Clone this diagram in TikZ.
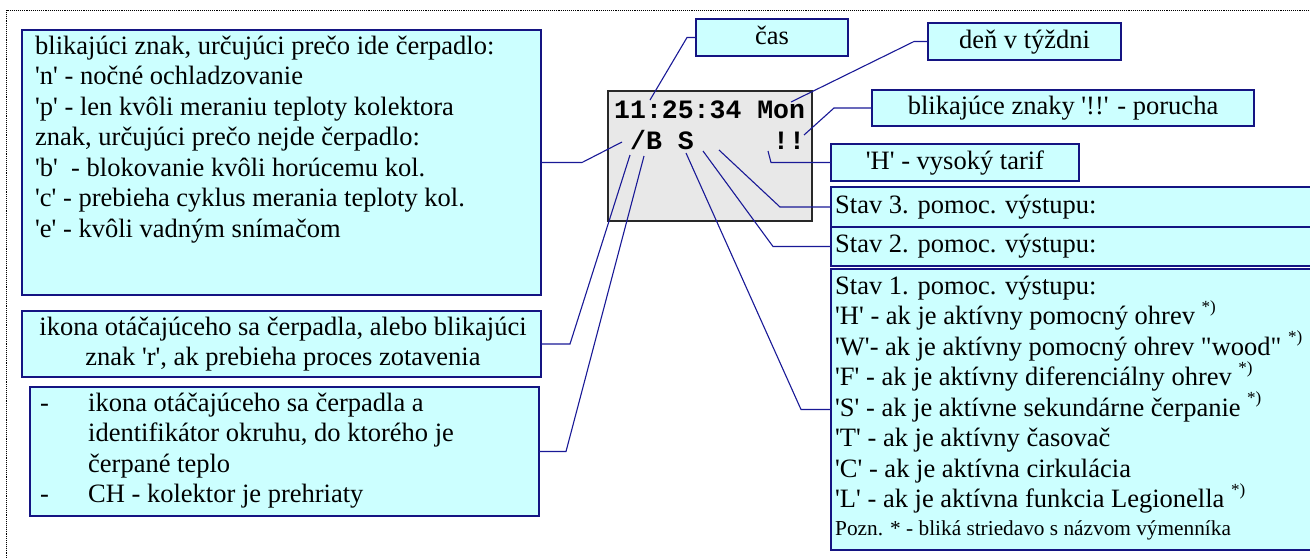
\documentclass[tikz,border=0pt]{standalone}
\usepackage{fontspec}
\setmainfont{Liberation Serif}[Ligatures=TeXOff]
\setmonofont{Liberation Mono}
\definecolor{boxfill}{RGB}{204,255,255}
\definecolor{boxline}{RGB}{20,20,130}
\definecolor{conncol}{RGB}{25,25,150}
\definecolor{lcdfill}{RGB}{232,232,232}
\definecolor{lcdline}{RGB}{40,40,40}
\newcommand{\supast}{\raisebox{12.5pt}{\fontsize{17}{17}\selectfont *)}}
\tikzset{
  box/.style={draw=boxline, fill=boxfill, line width=1.3pt, rectangle, inner sep=0pt, outer sep=0pt, anchor=north west},
  lbox/.style={draw=boxline, fill=boxfill, line width=1.3pt, rectangle, inner sep=0pt, outer sep=0pt, text height=20pt, text depth=6.5pt, font=\fontsize{26.5}{30.5}\selectfont},
  lcdbox/.style={draw=lcdline, fill=lcdfill, line width=2pt, rectangle, inner sep=0pt, outer sep=0pt, anchor=north west},
  txt/.style={anchor=base west, inner sep=0pt, font=\fontsize{26.5}{30.5}\selectfont},
  ctxt/.style={anchor=base, inner sep=0pt, font=\fontsize{26.5}{30.5}\selectfont},
  small/.style={anchor=base west, inner sep=0pt, font=\fontsize{21.3}{24}\selectfont},
  lcdtxt/.style={anchor=base west, inner sep=0pt, font=\fontsize{26.5}{30}\selectfont\ttfamily\bfseries},
  conn/.style={draw=conncol, line width=1.1pt},
  frame/.style={draw=black, densely dotted, line width=0.9pt}
}
\begin{document}
\begin{tikzpicture}[x=1pt,y=-1pt]
\useasboundingbox (0,0) rectangle (1310,558);
\draw[frame] (6,10) rectangle (1340,590);

% LCD display
\node[lcdbox, minimum width=204pt, minimum height=130pt] (lcd) at (608,91) {};
\node[lcdtxt] (lcd1) at (614,118) {11:25:34 Mon};
\node[lcdtxt] (lcd2) at (614,149) {\phantom{0}/B\phantom{0}S\phantom{00000}!!};

% points on the display
\coordinate (cA) at (650,100);
\coordinate (cB) at (791,102);
\coordinate (cC) at (804,135);
\coordinate (cD) at (768,151);
\coordinate (cE) at (719,150);
\coordinate (cF) at (703,151);
\coordinate (cG) at (686,153);
\coordinate (cH) at (644,156);
\coordinate (cI) at (630,155);
\coordinate (cJ) at (622,142);

% left boxes
\node[box, minimum width=519pt, minimum height=265pt] (b1) at (22,30) {};
\foreach \t [count=\i] in {{blikajúci znak, určujúci prečo ide čerpadlo:},
  {'n' - nočné ochladzovanie},
  {'p' - len kvôli meraniu teploty kolektora},
  {znak, určujúci prečo nejde čerpadlo:},
  {'b'\ \ - blokovanie kvôli horúcemu kol.},
  {'c' - prebieha cyklus merania teploty kol.},
  {'e' - kvôli vadným snímačom}}
  \node[txt] (a\i) at (35,{54.3+30.5*(\i-1)}) {\t};

\node[box, minimum width=519pt, minimum height=66pt] (b2) at (22,311) {};
\node[ctxt] (c1) at (283,335) {ikona otáčajúceho sa čerpadla, alebo blikajúci};
\node[ctxt] (c2) at (283,365) {znak 'r', ak prebieha proces zotavenia};

\node[box, minimum width=509pt, minimum height=129pt] (b3) at (30,387) {};
\node[txt] (d1) at (40,411) {-};
\node[txt] (d4) at (40,502.5) {-};
\foreach \t [count=\i] in {{ikona otáčajúceho sa čerpadla a},
  {identifikátor okruhu, do ktorého je},
  {čerpané teplo},
  {CH - kolektor je prehriaty}}
  \node[txt] (e\i) at (88,{411+30.5*(\i-1)}) {\t};

% top / right single-line boxes
\node[lbox, minimum width=152pt, minimum height=37pt] (cas) at (772,37.5) {čas};
\node[lbox, minimum width=193pt, minimum height=37pt] (den) at (1024.5,41.5) {deň v týždni};
\node[lbox, minimum width=382pt, minimum height=36pt] (por) at (1063,108) {blikajúce znaky '!!' - porucha};
\node[lbox, minimum width=248pt, minimum height=37pt] (tar) at (955,162.5) {'H' - vysoký tarif};

\node[box, minimum width=499pt, minimum height=40pt] (s3) at (831,187) {};
\node[txt] (s3t) at (835,213) {Stav 3. pomoc. výstupu:};
\node[box, minimum width=499pt, minimum height=39pt] (s2) at (831,227) {};
\node[txt] (s2t) at (835,252.5) {Stav 2. pomoc. výstupu:};
\node[box, minimum width=499pt, minimum height=281pt] (s1) at (831,269) {};
\foreach \t [count=\i] in {{Stav 1. pomoc. výstupu:},
  {'H' - ak je aktívny pomocný ohrev \supast},
  {'W'- ak je aktívny pomocný ohrev "wood" \supast},
  {'F' - ak je aktívny diferenciálny ohrev \supast},
  {'S' - ak je aktívne sekundárne čerpanie \supast},
  {'T' - ak je aktívny časovač},
  {'C' - ak je aktívna cirkulácia},
  {'L' - ak je aktívna funkcia Legionella \supast}}
  \node[txt] (f\i) at (835,{294+30.5*(\i-1)}) {\t};
\node[small] (f9) at (835,535) {Pozn. * - bliká striedavo s názvom výmenníka};

% connectors
\draw[conn] (cas.west) -- ++(-9,0) -- (cA);
\draw[conn] (den.west) -- ++(-14,0) -- (cB);
\draw[conn] (por.west) -- ++(-38,0) -- (cC);
\draw[conn] (tar.west) -- ++(-60,0) -- (cD);
\draw[conn] (s3.west) -- ++(-51,0) -- (cE);
\draw[conn] (s2.west) -- ++(-58,0) -- (cF);
\draw[conn] (s1.west) -- ++(-30,0) -- (cG);
\draw[conn] (b3.east) -- ++(27,0) -- (cH);
\draw[conn] (b2.east) -- ++(29,0) -- (cI);
\draw[conn] (b1.east) -- ++(41,0) -- (cJ);
\end{tikzpicture}
\end{document}
